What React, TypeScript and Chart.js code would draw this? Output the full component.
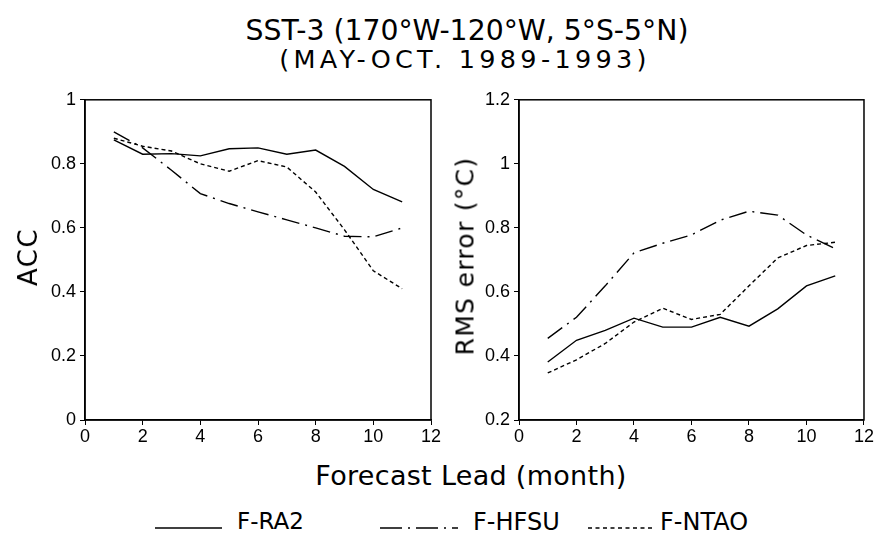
import React, { useEffect, useRef } from "react";
import { Chart, registerables } from "chart.js";

Chart.register(...registerables);

// ---- data ----
const leads = [1, 2, 3, 4, 5, 6, 7, 8, 9, 10, 11];
const accRA2 = [0.875, 0.83, 0.832, 0.825, 0.847, 0.85, 0.83, 0.843, 0.792, 0.72, 0.681];
const accHFSU = [0.9, 0.85, 0.78, 0.707, 0.676, 0.65, 0.625, 0.6, 0.574, 0.572, 0.6];
const accNTAO = [0.88, 0.855, 0.84, 0.8, 0.777, 0.81, 0.79, 0.712, 0.594, 0.466, 0.41];
const rmsRA2 = [0.381, 0.449, 0.48, 0.518, 0.49, 0.49, 0.521, 0.493, 0.547, 0.619, 0.65];
const rmsHFSU = [0.455, 0.521, 0.619, 0.722, 0.752, 0.778, 0.824, 0.852, 0.84, 0.778, 0.735];
const rmsNTAO = [0.347, 0.388, 0.439, 0.506, 0.549, 0.514, 0.53, 0.619, 0.706, 0.745, 0.755];
const seriesNames = ["F-RA2", "F-HFSU", "F-NTAO"];
const xTicks = [0, 2, 4, 6, 8, 10, 12];

const TITLE1 = "SST-3 (170°W-120°W, 5°S-5°N)";
const TITLE2 = "(MAY-OCT. 1989-1993)";
const XTITLE = "Forecast Lead (month)";
const YTITLE_L = "ACC";
const YTITLE_R = "RMS error (°C)";

const DASHES: number[][] = [[], [18, 6, 2, 6], [4, 3]];
const TICK_FONT = "'Liberation Sans Narrow', 'Liberation Sans', Arial, sans-serif";

const framePlugin = {
  id: "frame",
  afterDraw(chart: any) {
    const { ctx, chartArea } = chart;
    ctx.save();
    ctx.strokeStyle = "#000";
    ctx.lineWidth = 1.5;
    ctx.strokeRect(chartArea.left, chartArea.top, chartArea.right - chartArea.left, chartArea.bottom - chartArea.top);
    ctx.restore();
  },
};

function makeConfig(series: number[][], yMin: number, yMax: number, yWidth: number, padRight: number) {
  return {
    type: "line" as const,
    data: {
      datasets: series.map((vals, i) => ({
        label: seriesNames[i],
        data: leads.map((x, j) => ({ x, y: vals[j] })),
        borderColor: "#000",
        borderWidth: 1.4,
        borderDash: DASHES[i],
        pointRadius: 0,
        tension: 0,
        fill: false,
      })),
    },
    options: {
      animation: false,
      responsive: false,
      maintainAspectRatio: false,
      layout: { padding: { left: 0, top: 10, right: padRight, bottom: 0 } },
      plugins: { legend: { display: false }, tooltip: { enabled: false }, title: { display: false } },
      scales: {
        x: {
          type: "linear",
          min: 0,
          max: 12,
          afterBuildTicks: (s: any) => {
            s.ticks = xTicks.map((v) => ({ value: v }));
          },
          afterFit: (s: any) => {
            s.height = 25;
          },
          grid: { display: true, drawOnChartArea: false, tickLength: 5, color: "#000", lineWidth: 1 },
          border: { display: true, color: "#000", width: 1.5 },
          ticks: {
            color: "#000",
            font: { family: TICK_FONT, size: 18 },
            padding: 1,
            maxRotation: 0,
            autoSkip: false,
            callback: (v: any) => String(v),
          },
        },
        y: {
          type: "linear",
          min: yMin,
          max: yMax,
          afterFit: (s: any) => {
            s.width = yWidth;
          },
          grid: { display: true, drawOnChartArea: false, tickLength: 5, color: "#000", lineWidth: 1 },
          border: { display: true, color: "#000", width: 1.5 },
          ticks: {
            stepSize: 0.2,
            color: "#000",
            font: { family: TICK_FONT, size: 18 },
            padding: 4,
            callback: (v: any) => String(Math.round(Number(v) * 10) / 10),
          },
        },
      },
    },
    plugins: [framePlugin],
  };
}

function Panel(props: { series: number[][]; yMin: number; yMax: number; left: number; width: number; yWidth: number; padRight: number }) {
  const ref = useRef<HTMLCanvasElement | null>(null);
  useEffect(() => {
    if (!ref.current) return;
    const chart = new Chart(ref.current, makeConfig(props.series, props.yMin, props.yMax, props.yWidth, props.padRight) as any);
    return () => chart.destroy();
  }, []);
  return (
    <canvas
      ref={ref}
      width={props.width}
      height={360}
      style={{ position: "absolute", left: props.left, top: 85, width: props.width, height: 360 }}
    />
  );
}

const textBase: React.CSSProperties = {
  position: "absolute",
  fontFamily: "'DejaVu Sans', sans-serif",
  color: "#000",
  whiteSpace: "nowrap",
  lineHeight: 1,
};

function LegendLine(props: { left: number; width: number; dash: string }) {
  return (
    <svg width={props.width} height={6} style={{ position: "absolute", left: props.left, top: 525 }}>
      <line x1={0} y1={3} x2={props.width} y2={3} stroke="#000" strokeWidth={1.5} strokeDasharray={props.dash} />
    </svg>
  );
}

export default function App() {
  return (
    <div style={{ position: "absolute", left: 0, top: 0, width: 875, height: 535, background: "#fff", overflow: "hidden" }}>
      <div style={{ ...textBase, left: 467, top: 17, fontSize: 28.3, transform: "translateX(-50%)" }}>{TITLE1}</div>
      <div style={{ ...textBase, left: 465, top: 47, fontSize: 25.5, letterSpacing: 4.3, transform: "translateX(-50%)" }}>{TITLE2}</div>

      <Panel series={[accRA2, accHFSU, accNTAO]} yMin={0} yMax={1} left={0} width={445} yWidth={85} padRight={14} />
      <Panel series={[rmsRA2, rmsHFSU, rmsNTAO]} yMin={0.2} yMax={1.2} left={445} width={430} yWidth={74} padRight={10} />

      <div
        style={{
          ...textBase,
          left: 28,
          top: 257,
          fontSize: 26,
          letterSpacing: 1.5,
          transform: "translate(-50%, -50%) rotate(-90deg)",
        }}
      >
        {YTITLE_L}
      </div>
      <div
        style={{
          ...textBase,
          left: 465,
          top: 256,
          fontSize: 25,
          letterSpacing: 1.3,
          transform: "translate(-50%, -50%) rotate(-90deg)",
        }}
      >
        {YTITLE_R}
      </div>

      <div style={{ ...textBase, left: 471, top: 475, fontSize: 27, letterSpacing: 0.3, transform: "translate(-50%, -50%)" }}>{XTITLE}</div>

      <LegendLine left={155} width={67} dash="" />
      <div style={{ ...textBase, left: 237, top: 510, fontSize: 23 }}>{seriesNames[0]}</div>
      <LegendLine left={380} width={90} dash="22 6 2 6 22 6 2 6 6 20" />
      <div style={{ ...textBase, left: 473, top: 510, fontSize: 24 }}>{seriesNames[1]}</div>
      <LegendLine left={588} width={67} dash="4 3.5" />
      <div style={{ ...textBase, left: 660, top: 510, fontSize: 24 }}>{seriesNames[2]}</div>
    </div>
  );
}
